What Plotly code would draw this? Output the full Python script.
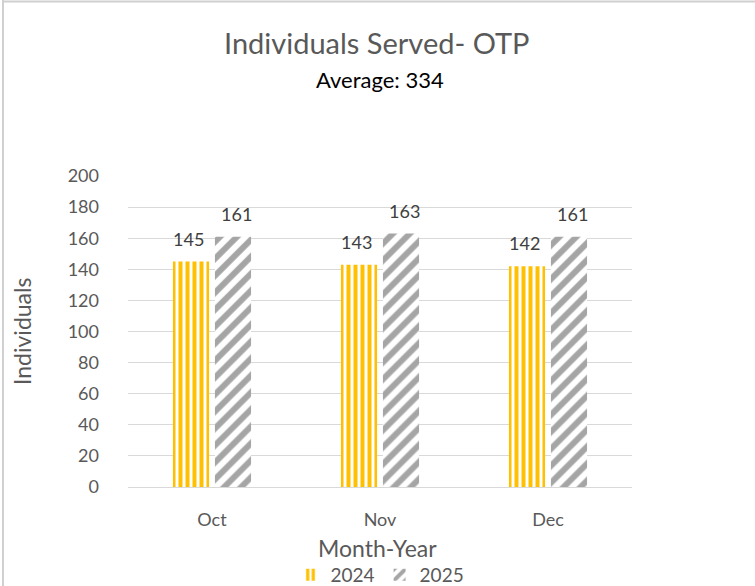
import plotly.graph_objects as go

months = ["Oct", "Nov", "Dec"]
series_names = ["2024", "2025"]
values_2024 = [145, 143, 142]
values_2025 = [161, 163, 161]
y_ticks = [0, 20, 40, 60, 80, 100, 120, 140, 160, 180, 200]

FONT = "Lato"
W, H = 755, 586
ML, MR, MT, MB = 128, 123, 176, 99

fig = go.Figure()
fig.add_trace(go.Bar(
    x=months, y=values_2024, name=series_names[0],
    marker=dict(color="white", line=dict(width=0),
                pattern=dict(shape="|", fgcolor="#FFC000", bgcolor="white",
                             fgopacity=1, size=7, solidity=0.57, fillmode="overlay")),
))
fig.add_trace(go.Bar(
    x=months, y=values_2025, name=series_names[1],
    marker=dict(color="white", line=dict(width=0),
                pattern=dict(shape="/", fgcolor="#A5A5A5", bgcolor="white",
                             fgopacity=1, size=12, solidity=0.5, fillmode="overlay")),
))

ph = H - MT - MB
pw = W - ML - MR

annotations = []
for vals, shift in ((values_2024, -24), (values_2025, 24)):
    for m, v in zip(months, vals):
        annotations.append(dict(
            x=m, y=v, xref="x", yref="y", text=str(v), showarrow=False,
            xanchor="center", yanchor="bottom", xshift=shift, yshift=10,
            font=dict(family=FONT, size=18, color="#404040")))

annotations += [
    dict(text="Individuals Served- OTP", xref="paper", yref="paper",
         x=0.495, y=(487 - 42) / ph, xanchor="center", yanchor="middle",
         showarrow=False, font=dict(family=FONT, size=29, color="#595959")),
    dict(text="Average: 334", xref="paper", yref="paper",
         x=0.5, y=(487 - 80) / ph, xanchor="center", yanchor="middle",
         showarrow=False, font=dict(family=FONT, size=22, color="#000000")),
    dict(text="Individuals", xref="paper", yref="paper",
         x=(22 - ML) / pw, y=(487 - 332) / ph, xanchor="center", yanchor="middle",
         textangle=-90, showarrow=False,
         font=dict(family=FONT, size=23, color="#595959")),
    dict(text="Month-Year", xref="paper", yref="paper",
         x=0.495, y=(487 - 548) / ph, xanchor="center", yanchor="middle",
         showarrow=False, font=dict(family=FONT, size=23, color="#595959")),
]

fig.update_layout(
    width=W, height=H,
    margin=dict(l=ML, r=MR, t=MT, b=MB, pad=0, autoexpand=False),
    paper_bgcolor="white", plot_bgcolor="white",
    font=dict(family=FONT, color="#595959"),
    barmode="group", bargap=0.5, bargroupgap=0.14,
    showlegend=True,
    legend=dict(orientation="h", x=0.5, xanchor="center",
                y=(487 - 575) / ph, yanchor="middle",
                font=dict(family=FONT, size=19, color="#595959"),
                itemwidth=30, traceorder="normal", tracegroupgap=0),
    xaxis=dict(showgrid=False, showline=True, linecolor="#D9D9D9", linewidth=1,
               ticks="", tickfont=dict(family=FONT, size=18, color="#595959"),
               ticklabelstandoff=16),
    yaxis=dict(range=[0, 200], tickvals=y_ticks, showgrid=True,
               gridcolor="#D9D9D9", gridwidth=1, zeroline=False, showline=False,
               ticks="", tickfont=dict(family=FONT, size=18, color="#595959"),
               ticklabelstandoff=28),
    annotations=annotations,
    shapes=[
        dict(type="line", xref="paper", yref="paper",
             x0=(2 - ML) / pw, x1=(W - ML) / pw, y0=(487 - 1.5) / ph, y1=(487 - 1.5) / ph,
             line=dict(color="#D0D0D0", width=2)),
        dict(type="line", xref="paper", yref="paper",
             x0=(3 - ML) / pw, x1=(3 - ML) / pw, y0=(487 - 0) / ph, y1=(487 - H) / ph,
             line=dict(color="#D0D0D0", width=2)),
    ],
)

fig.write_html("out.html", config={"displayModeBar": False},
               post_script="document.body.style.margin='0';document.body.style.overflow='hidden';")
